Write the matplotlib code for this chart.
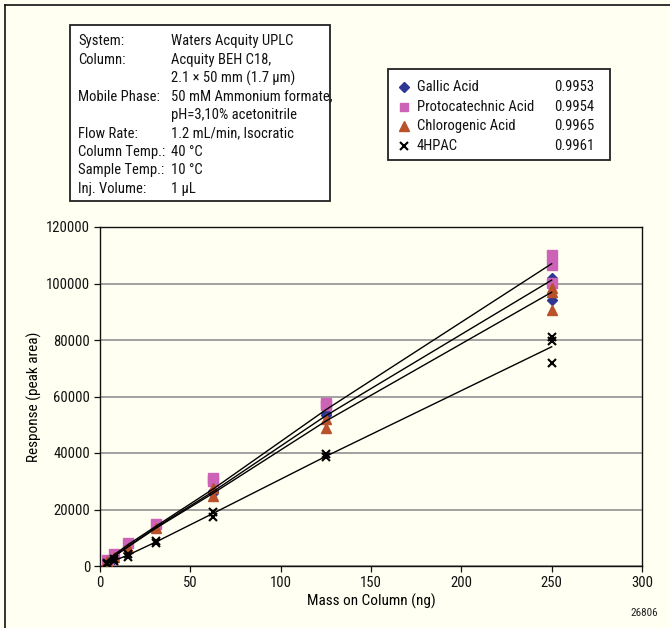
import matplotlib
matplotlib.use("Agg")
import matplotlib.pyplot as plt
from matplotlib import font_manager
from matplotlib.patches import Rectangle
from matplotlib.lines import Line2D

# ---------------- data ----------------
series_names = ["Gallic Acid", "Protocatechnic Acid", "Chlorogenic Acid", "4HPAC"]
r2_values = ["0.9953", "0.9954", "0.9965", "0.9961"]

gallic_x = [3.9, 7.8, 15.6, 31.25, 62.5, 62.5, 125, 125, 250, 250]
gallic_y = [1500, 2500, 7000, 14000, 26700, 26000, 54300, 53400, 102000, 94200]

proto_x = [3.9, 7.8, 15.6, 31.25, 62.5, 62.5, 125, 125, 250, 250, 250]
proto_y = [2300, 4400, 8300, 14900, 31300, 30200, 57800, 56900, 110000, 106500, 100200]

chloro_x = [3.9, 7.8, 15.6, 31.25, 62.5, 62.5, 125, 125, 250, 250, 250]
chloro_y = [1700, 3300, 6400, 13500, 27700, 24900, 52200, 49000, 98400, 97000, 90600]

hpac_x = [3.9, 3.9, 7.8, 7.8, 15.6, 15.6, 31.25, 31.25, 62.5, 62.5, 125, 125, 250, 250, 250]
hpac_y = [600, 1000, 1700, 2500, 4400, 3300, 9000, 8100, 19200, 17200, 39700, 38600, 81000, 79700, 72000]

# connecting lines
line_x = [3.9, 7.8, 15.6, 31.25, 62.5, 125, 250]
proto_line = [1900, 4000, 7600, 14200, 27200, 55300, 107000]
gallic_line = [1700, 3500, 7000, 13800, 26300, 53200, 101200]
chloro_line = [1700, 3400, 6800, 13500, 25700, 51300, 96900]
hpac_line = [900, 1900, 3900, 8600, 18600, 38800, 77600]

x_ticks = [0, 50, 100, 150, 200, 250, 300]
y_ticks = [0, 20000, 40000, 60000, 80000, 100000, 120000]

cond_labels = ["System:", "Column:", "", "Mobile Phase:", "", "Flow Rate:",
               "Column Temp.:", "Sample Temp.:", "Inj. Volume:"]
cond_values = ["Waters Acquity UPLC", "Acquity BEH C18,", "2.1 \u00d7 50 mm (1.7 \u00b5m)",
               "50 mM Ammonium formate,", "pH=3,10% acetonitrile", "1.2 mL/min, Isocratic",
               "40 \u00b0C", "10 \u00b0C", "1 \u00b5L"]

# ---------------- fonts ----------------
ttf = font_manager.fontManager.ttflist
names = {f.name for f in ttf}
fam = None
for cand in ["Liberation Sans Narrow", "Roboto Condensed", "Open Sans Condensed"]:
    if cand in names:
        fam = cand
        break
stretch = "normal"
if fam is None:
    dv_cond = [f for f in ttf if f.name == "DejaVu Sans" and str(f.stretch) in ("condensed", "semi-condensed")]
    if dv_cond:
        fam = "DejaVu Sans"
        stretch = "condensed"
if fam is None:
    fam = "Liberation Sans"
    FS = 9.5
    FS_TICK = 10
else:
    FS = 10.5
    FS_TICK = 10.5
plt.rcParams["font.family"] = [fam, "DejaVu Sans"]
plt.rcParams["font.stretch"] = stretch

BG = "#FFFFF2"
C_BLUE = "#2E3592"
C_PINK = "#CC63B6"
C_ORANGE = "#B9512A"

W, H = 670, 628
fig = plt.figure(figsize=(W / 100, H / 100), dpi=100, facecolor=BG)

def fx(px):
    return px / W

def fy(py):
    return 1 - py / H

L, R, T, B = 100, 642, 227, 566
ax = fig.add_axes([fx(L), fy(B), fx(R) - fx(L), fy(T) - fy(B)])
ax.set_facecolor(BG)
ax.set_xlim(0, 300)
ax.set_ylim(0, 120000)
ax.set_xticks(x_ticks)
ax.set_yticks(y_ticks)
ax.set_xticklabels([str(v) for v in x_ticks])
ax.set_yticklabels([str(v) for v in y_ticks])
ax.tick_params(direction="out", length=4, width=0.9, labelsize=FS_TICK, colors="#111111", pad=3)
for s in ax.spines.values():
    s.set_linewidth(1.0)
    s.set_color("#111111")
ax.yaxis.grid(True, color="#9a9a9a", linewidth=1.3)
ax.set_axisbelow(True)

ax.set_xlabel("Mass on Column (ng)", fontsize=FS + 0.5, labelpad=3)
ax.set_ylabel("Response (peak area)", fontsize=FS + 0.5, labelpad=3)

for ly in (proto_line, gallic_line, chloro_line, hpac_line):
    ax.plot(line_x, ly, color="black", linewidth=1.0, zorder=4)

ax.plot(gallic_x, gallic_y, linestyle="none", marker="D", markersize=5.5, color=C_BLUE, zorder=3)
ax.plot(proto_x, proto_y, linestyle="none", marker="s", markersize=6.5, color=C_PINK, zorder=3)
ax.plot(chloro_x, chloro_y, linestyle="none", marker="^", markersize=7, color=C_ORANGE, zorder=3)
ax.plot(hpac_x, hpac_y, linestyle="none", marker="x", markersize=6, markeredgewidth=1.5,
        color="black", zorder=5)

# ---------------- overlay for boxes ----------------
ov = fig.add_axes([0, 0, 1, 1], zorder=10)
ov.set_xlim(0, W)
ov.set_ylim(H, 0)
ov.axis("off")
ov.patch.set_alpha(0)

# page frame (top & left)
ov.add_line(Line2D([5, W], [5, 5], color="#111111", linewidth=1.2))
ov.add_line(Line2D([5, 5], [5, H], color="#111111", linewidth=1.2))

# conditions box
ov.add_patch(Rectangle((70, 25), 260, 176, facecolor="white", edgecolor="#222222", linewidth=1.3))
y0, pitch = 41.5, 18.4
for i, (lab, val) in enumerate(zip(cond_labels, cond_values)):
    yy = y0 + i * pitch
    ov.text(78, yy, lab, fontsize=FS, va="center", ha="left", color="#111111")
    ov.text(171, yy, val, fontsize=FS, va="center", ha="left", color="#111111")

# legend box
ov.add_patch(Rectangle((388, 69), 222, 91, facecolor="white", edgecolor="#222222", linewidth=1.3))
leg_markers = [("D", C_BLUE, 5, 1), ("s", C_PINK, 6, 1), ("^", C_ORANGE, 6.5, 1), ("x", "black", 6, 1.5)]
for i, (name, r2, (mk, col, ms, mew)) in enumerate(zip(series_names, r2_values, leg_markers)):
    yy = 87 + i * 19.6
    ov.plot([404], [yy], marker=mk, color=col, markersize=ms, markeredgewidth=mew, linestyle="none")
    ov.text(417, yy, name, fontsize=FS, va="center", ha="left", color="#111111")
    ov.text(594, yy, r2, fontsize=FS, va="center", ha="right", color="#111111")

ov.text(658, 613, "26806", fontsize=8, va="center", ha="right", color="#222222")

fig.savefig("out.png", dpi=100, facecolor=BG)
